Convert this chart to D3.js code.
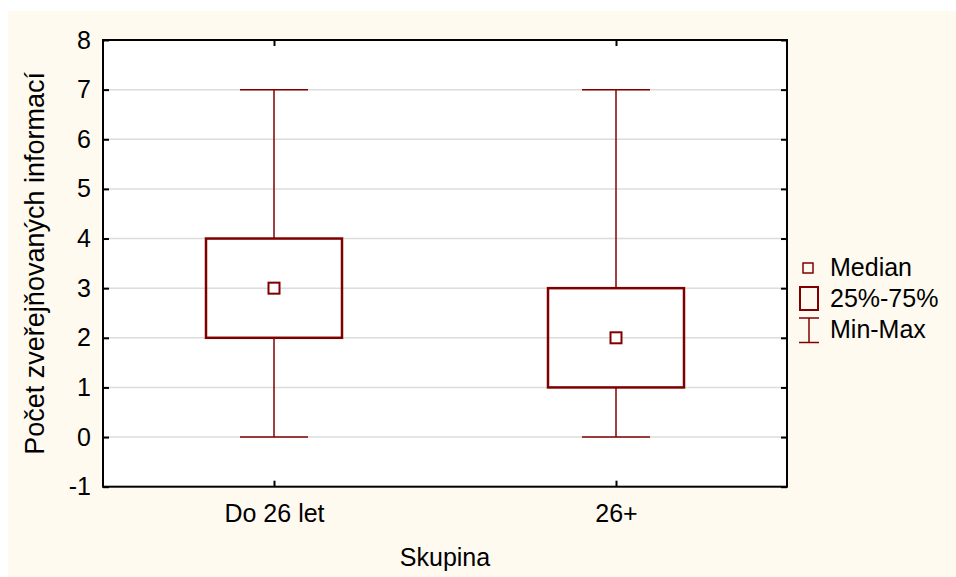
<!DOCTYPE html>
<html><head><meta charset="utf-8">
<script src="https://cdn.jsdelivr.net/npm/d3@7"></script>
<style>html,body{margin:0;padding:0;background:#fff;}svg{display:block;}</style>
</head><body>
<script>
const categories = ["Do 26 let", "26+"];
const minVals = [0, 0];
const q1Vals = [2, 1];
const medianVals = [3, 2];
const q3Vals = [4, 3];
const maxVals = [7, 7];
const yTicks = [-1, 0, 1, 2, 3, 4, 5, 6, 7, 8];
const legendLabels = ["Median", "25%-75%", "Min-Max"];

const W = 956, H = 577;
const m = {left: 103, right: 787, top: 40, bottom: 486.7};
const font = "'Liberation Sans', Arial, sans-serif";
const fs = 25;
const red = "#800000";

const svg = d3.select("body").append("svg").attr("width", W).attr("height", H);
svg.append("rect").attr("x", 8).attr("y", 11).attr("width", W - 8).attr("height", H - 11).attr("fill", "#fffaf0");
svg.append("rect").attr("x", m.left).attr("y", m.top).attr("width", m.right - m.left).attr("height", m.bottom - m.top).attr("fill", "#fff");

const x = d3.scalePoint().domain(categories).range([m.left, m.right]).padding(0.5);
const y = d3.scaleLinear().domain([-1, 8]).range([m.bottom, m.top]);

// grid
svg.append("g").selectAll("line").data(yTicks.filter(t => t > -1 && t < 8)).join("line")
  .attr("x1", m.left).attr("x2", m.right).attr("y1", d => y(d)).attr("y2", d => y(d))
  .attr("stroke", "#dcdcdc").attr("stroke-width", 1.5);

const data = categories.map((c, i) => ({c, min: minVals[i], q1: q1Vals[i], med: medianVals[i], q3: q3Vals[i], max: maxVals[i]}));
const boxW = 136, capW = 68, medS = 11;
const g = svg.append("g");
data.forEach(d => {
  const cx = x(d.c);
  g.append("line").attr("x1", cx).attr("x2", cx).attr("y1", y(d.max)).attr("y2", y(d.q3)).attr("stroke", red).attr("stroke-width", 1.5);
  g.append("line").attr("x1", cx).attr("x2", cx).attr("y1", y(d.q1)).attr("y2", y(d.min)).attr("stroke", red).attr("stroke-width", 1.5);
  g.append("line").attr("x1", cx - capW/2).attr("x2", cx + capW/2).attr("y1", y(d.max)).attr("y2", y(d.max)).attr("stroke", red).attr("stroke-width", 1.5);
  g.append("line").attr("x1", cx - capW/2).attr("x2", cx + capW/2).attr("y1", y(d.min)).attr("y2", y(d.min)).attr("stroke", red).attr("stroke-width", 1.5);
  g.append("rect").attr("x", cx - boxW/2).attr("y", y(d.q3)).attr("width", boxW).attr("height", y(d.q1) - y(d.q3))
    .attr("fill", "none").attr("stroke", red).attr("stroke-width", 2.5);
  g.append("rect").attr("x", cx - medS/2).attr("y", y(d.med) - medS/2).attr("width", medS).attr("height", medS)
    .attr("fill", "#fff").attr("stroke", red).attr("stroke-width", 2);
});

// axes
const ax = svg.append("g").attr("font-family", font);
const yAxL = d3.axisLeft(y).tickValues(yTicks).tickSize(-6).tickPadding(12).tickFormat(d => String(d));
const gl = ax.append("g").attr("transform", `translate(${m.left},0)`).call(yAxL);
const yAxR = d3.axisRight(y).tickValues(yTicks).tickSize(-6).tickFormat("");
const gr = ax.append("g").attr("transform", `translate(${m.right},0)`).call(yAxR);
const xAxB = d3.axisBottom(x).tickSize(-6).tickPadding(18);
const gb = ax.append("g").attr("transform", `translate(0,${m.bottom})`).call(xAxB);
const xAxT = d3.axisTop(x).tickSize(-6).tickFormat("");
const gt = ax.append("g").attr("transform", `translate(0,${m.top})`).call(xAxT);
[gl, gr, gb, gt].forEach(a => {
  a.select(".domain").remove();
  a.selectAll(".tick line").attr("stroke", "#000").attr("stroke-width", 2);
  a.selectAll("text").attr("font-size", fs).attr("fill", "#000").attr("font-family", font);
});
gb.selectAll("text").attr("dy", "0.71em");
svg.append("rect").attr("x", m.left).attr("y", m.top).attr("width", m.right - m.left).attr("height", m.bottom - m.top)
  .attr("fill", "none").attr("stroke", "#000").attr("stroke-width", 2);

// titles
svg.append("text").attr("x", (m.left + m.right)/2).attr("y", 566).attr("text-anchor", "middle")
  .attr("font-family", font).attr("font-size", fs).text("Skupina");
svg.append("text").attr("transform", `translate(44,${(m.top + m.bottom)/2}) rotate(-90)`).attr("text-anchor", "middle")
  .attr("font-family", font).attr("font-size", 27).text("Počet zveřejňovaných informací");

// legend
const lg = svg.append("g").attr("font-family", font).attr("font-size", fs);
const lx = 799;
lg.append("rect").attr("x", lx + 4).attr("y", 263).attr("width", 10).attr("height", 10).attr("fill", "none").attr("stroke", red).attr("stroke-width", 1.5);
lg.append("rect").attr("x", lx + 1).attr("y", 287).attr("width", 18).attr("height", 23).attr("fill", "none").attr("stroke", red).attr("stroke-width", 2);
lg.append("line").attr("x1", lx).attr("x2", lx + 20).attr("y1", 318).attr("y2", 318).attr("stroke", red).attr("stroke-width", 1.5);
lg.append("line").attr("x1", lx).attr("x2", lx + 20).attr("y1", 342.5).attr("y2", 342.5).attr("stroke", red).attr("stroke-width", 1.5);
lg.append("line").attr("x1", lx + 10).attr("x2", lx + 10).attr("y1", 318).attr("y2", 342.5).attr("stroke", red).attr("stroke-width", 1.5);
lg.selectAll("text.l").data(legendLabels).join("text").attr("class", "l")
  .attr("x", 830).attr("y", (d, i) => 276 + i * 31).text(d => d);
</script>
</body></html>
